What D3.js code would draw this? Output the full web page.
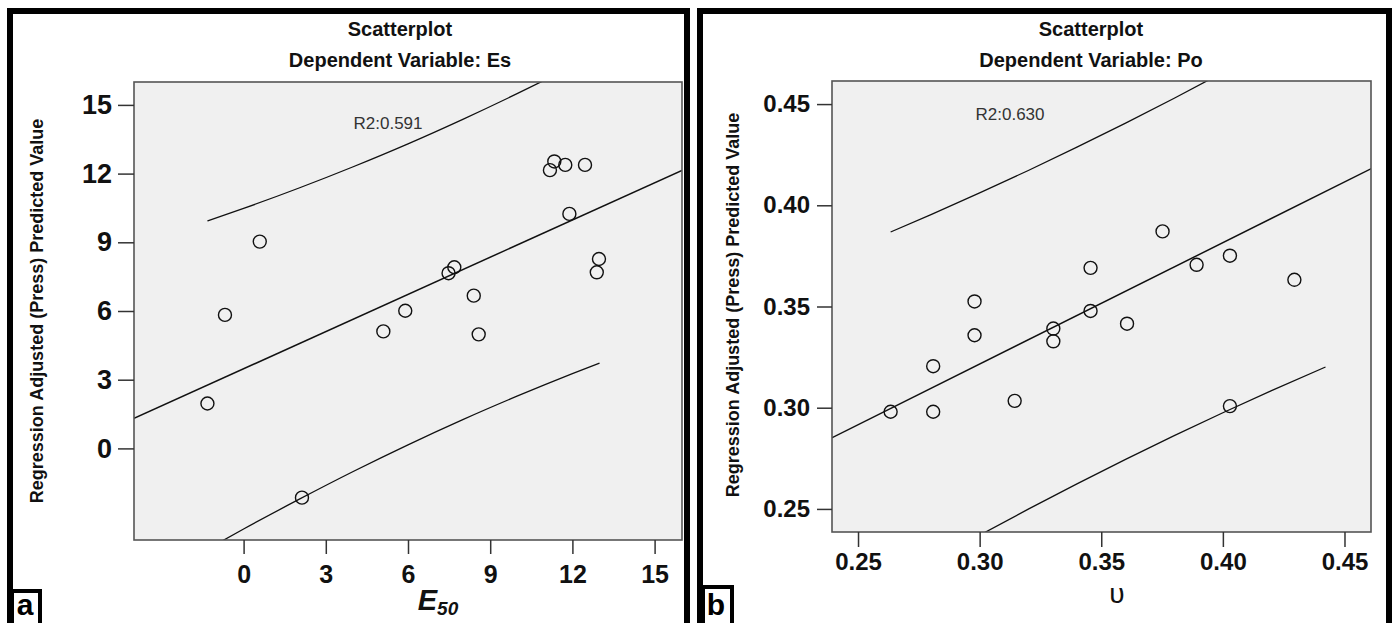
<!DOCTYPE html>
<html>
<head>
<meta charset="utf-8">
<script src="https://cdn.jsdelivr.net/npm/d3@7/dist/d3.min.js"></script>
<style>
  html, body { margin: 0; padding: 0; background: #fff; }
  svg { display: block; }
  text { font-family: "Liberation Sans", Arial, sans-serif; }
</style>
</head>
<body>
<svg id="chart" width="1395" height="623"></svg>
<script>
// ---------------- DATA ----------------
// Panel a : Dependent Variable Es
const xA = [-1.32, -0.68, 0.59, 2.13, 5.10, 5.90, 7.48, 7.69, 8.40, 8.58, 11.18, 11.34, 11.74, 12.46, 11.89, 12.97, 12.89];
const yA = [1.96, 5.83, 9.03, -2.15, 5.11, 6.01, 7.65, 7.91, 6.67, 4.98, 12.15, 12.53, 12.38, 12.38, 10.24, 8.27, 7.69];
const fitA = [[-4, 1.31], [16, 12.14]];
const upperAX = [-1.32, 0, 2, 4, 6, 8, 10, 11, 12];
const upperAY = [9.93, 10.48, 11.36, 12.30, 13.30, 14.37, 15.50, 16.09, 16.69];
const lowerAX = [-1.32, 0, 2, 4, 6, 8, 10, 11, 12, 12.99];
const lowerAY = [-4.40, -3.52, -2.24, -1.01, 0.155, 1.256, 2.29, 2.786, 3.264, 3.723];
const ticksA = [0, 3, 6, 9, 12, 15];
const domainA = [-4, 16];

// Panel b : Dependent Variable Po
const xB = [0.2634, 0.2809, 0.2809, 0.2979, 0.2979, 0.3144, 0.3303, 0.3303, 0.3456, 0.3456, 0.3606, 0.3752, 0.3892, 0.4029, 0.4029, 0.4294];
const yB = [0.2980, 0.3205, 0.2980, 0.3525, 0.3358, 0.3034, 0.3391, 0.3328, 0.3691, 0.3478, 0.3415, 0.3871, 0.3706, 0.3751, 0.3008, 0.3632];
const fitB = [[0.2387, 0.2848], [0.4613, 0.4183]];
const upperBX = [0.2634, 0.28, 0.30, 0.32, 0.34, 0.36, 0.38, 0.40];
const upperBY = [0.3868, 0.3954, 0.4061, 0.4172, 0.4287, 0.4406, 0.4529, 0.4656];
const lowerBX = [0.28, 0.30, 0.32, 0.34, 0.36, 0.38, 0.40, 0.42, 0.4422];
const lowerBY = [0.2238, 0.2370, 0.2499, 0.2624, 0.2745, 0.2862, 0.2975, 0.3084, 0.3201];
const ticksB = [0.25, 0.30, 0.35, 0.40, 0.45];
const xDomainB = [0.2393, 0.4609];
const yDomainB = [0.2386, 0.4614];

const titleText = "Scatterplot";
const depA = "Dependent Variable: Es";
const depB = "Dependent Variable: Po";
const yTitle = "Regression Adjusted (Press) Predicted Value";
const r2A = "R2:0.591";
const r2B = "R2:0.630";

// ---------------- DRAW ----------------
const svg = d3.select("#chart");

// outer black frames
svg.append("rect").attr("x", 10).attr("y", 11).attr("width", 677).attr("height", 616)
  .attr("fill", "none").attr("stroke", "#000").attr("stroke-width", 6);
svg.append("rect").attr("x", 700).attr("y", 11).attr("width", 689).attr("height", 616)
  .attr("fill", "none").attr("stroke", "#000").attr("stroke-width", 6);

function panel(cfg) {
  const g = svg.append("g");
  const x = d3.scaleLinear().domain(cfg.xDomain).range([cfg.left, cfg.right]);
  const y = d3.scaleLinear().domain(cfg.yDomain).range([cfg.bottom, cfg.top]);

  const clipId = "clip" + cfg.id;
  svg.append("defs").append("clipPath").attr("id", clipId)
    .append("rect").attr("x", cfg.left).attr("y", cfg.top)
    .attr("width", cfg.right - cfg.left).attr("height", cfg.bottom - cfg.top);

  // plot background
  g.append("rect").attr("x", cfg.left).attr("y", cfg.top)
    .attr("width", cfg.right - cfg.left).attr("height", cfg.bottom - cfg.top)
    .attr("fill", "#f0f0f0");

  const inner = g.append("g").attr("clip-path", `url(#${clipId})`);
  const line = d3.line().x(d => x(d[0])).y(d => y(d[1]));
  const curve = d3.line().x(d => x(d[0])).y(d => y(d[1])).curve(d3.curveMonotoneX);

  inner.append("path").attr("d", line(cfg.fit))
    .attr("fill", "none").attr("stroke", "#111").attr("stroke-width", 1.5);
  inner.append("path").attr("d", curve(cfg.upX.map((v, i) => [v, cfg.upY[i]])))
    .attr("fill", "none").attr("stroke", "#111").attr("stroke-width", 1.3);
  inner.append("path").attr("d", curve(cfg.loX.map((v, i) => [v, cfg.loY[i]])))
    .attr("fill", "none").attr("stroke", "#111").attr("stroke-width", 1.3);

  inner.selectAll("circle.pt").data(cfg.xs.map((v, i) => [v, cfg.ys[i]]))
    .enter().append("circle").attr("class", "pt")
    .attr("cx", d => x(d[0])).attr("cy", d => y(d[1])).attr("r", 6.5)
    .attr("fill", "none").attr("stroke", "#111").attr("stroke-width", 1.4);

  // box border
  g.append("rect").attr("x", cfg.left).attr("y", cfg.top)
    .attr("width", cfg.right - cfg.left).attr("height", cfg.bottom - cfg.top)
    .attr("fill", "none").attr("stroke", "#555").attr("stroke-width", 1.6);

  // axes
  const ya = d3.axisLeft(y).tickValues(cfg.ticks).tickSize(cfg.yTick).tickPadding(cfg.yPad).tickFormat(cfg.fmt);
  const yg = g.append("g").attr("transform", `translate(${cfg.left},0)`).call(ya);
  yg.select(".domain").remove();
  yg.selectAll("line").attr("stroke", "#333").attr("stroke-width", 1.5);
  yg.selectAll("text").attr("font-family", "Liberation Sans, Arial, sans-serif")
    .attr("font-size", cfg.yFs).attr("font-weight", "bold").attr("fill", "#111");

  const xa = d3.axisBottom(x).tickValues(cfg.ticks).tickSize(cfg.xTick).tickPadding(cfg.xPad).tickFormat(cfg.fmt);
  const xg = g.append("g").attr("transform", `translate(0,${cfg.bottom})`).call(xa);
  xg.select(".domain").remove();
  xg.selectAll("line").attr("stroke", "#333").attr("stroke-width", 1.5);
  xg.selectAll("text").attr("font-family", "Liberation Sans, Arial, sans-serif")
    .attr("font-size", cfg.xFs).attr("font-weight", "bold").attr("fill", "#111");

  // titles
  g.append("text").attr("x", cfg.titleX).attr("y", 36).attr("text-anchor", "middle")
    .attr("font-size", 20).attr("font-weight", "bold").attr("fill", "#111").text(titleText);
  g.append("text").attr("x", cfg.titleX).attr("y", 67).attr("text-anchor", "middle")
    .attr("font-size", 20).attr("font-weight", "bold").attr("fill", "#111").text(cfg.dep);

  // y title
  g.append("text").attr("transform", `translate(${cfg.yTitleX},${cfg.yTitleY}) rotate(-90)`)
    .attr("text-anchor", "middle").attr("dominant-baseline", "central")
    .attr("font-size", 18).attr("font-weight", "bold").attr("fill", "#111").text(yTitle);

  // R2
  g.append("text").attr("x", cfg.r2X).attr("y", cfg.r2Y).attr("text-anchor", "middle")
    .attr("font-size", 17).attr("fill", "#333").text(cfg.r2);

  return g;
}

panel({
  id: "A", left: 134, right: 682, top: 82, bottom: 540,
  xDomain: domainA, yDomain: domainA, xs: xA, ys: yA, fit: fitA,
  upX: upperAX, upY: upperAY, loX: lowerAX, loY: lowerAY,
  ticks: ticksA, fmt: d3.format("d"),
  yTick: 16, yPad: 6, yFs: 27, xTick: 14, xPad: 11, xFs: 25,
  titleX: 400, dep: depA, yTitleX: 37, yTitleY: 311,
  r2: r2A, r2X: 388, r2Y: 129
});

panel({
  id: "B", left: 832, right: 1371, top: 81, bottom: 532,
  xDomain: xDomainB, yDomain: yDomainB, xs: xB, ys: yB, fit: fitB,
  upX: upperBX, upY: upperBY, loX: lowerBX, loY: lowerBY,
  ticks: ticksB, fmt: d3.format(".2f"),
  yTick: 15, yPad: 7, yFs: 24, xTick: 15, xPad: 6, xFs: 24,
  titleX: 1091, dep: depB, yTitleX: 733, yTitleY: 305,
  r2: r2B, r2X: 1010, r2Y: 120
});

// x axis titles
const e50 = svg.append("text").attr("x", 438).attr("y", 610).attr("text-anchor", "middle")
  .attr("font-weight", "bold").attr("font-style", "italic").attr("fill", "#111");
e50.append("tspan").attr("font-size", 29).text("E");
e50.append("tspan").attr("font-size", 19).attr("dy", 5).text("50");

svg.append("text").attr("x", 1117).attr("y", 603).attr("text-anchor", "middle")
  .attr("font-family", "Liberation Serif, Times New Roman, serif")
  .attr("font-size", 28).attr("fill", "#111").text("\u03C5");

// panel letters
svg.append("rect").attr("x", 12).attr("y", 591).attr("width", 28).attr("height", 34)
  .attr("fill", "#fff").attr("stroke", "#000").attr("stroke-width", 4);
svg.append("text").attr("x", 25).attr("y", 615).attr("text-anchor", "middle")
  .attr("font-size", 30).attr("font-weight", "bold").attr("fill", "#000").text("a");
svg.append("rect").attr("x", 703).attr("y", 587).attr("width", 29).attr("height", 38)
  .attr("fill", "#fff").attr("stroke", "#000").attr("stroke-width", 4);
svg.append("text").attr("x", 716).attr("y", 615).attr("text-anchor", "middle")
  .attr("font-size", 30).attr("font-weight", "bold").attr("fill", "#000").text("b");
</script>
</body>
</html>
